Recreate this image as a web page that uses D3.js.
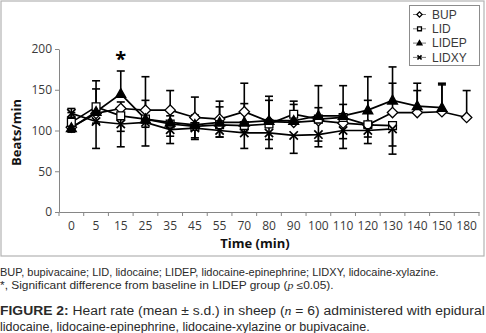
<!DOCTYPE html>
<html>
<head>
<meta charset="utf-8">
<script src="https://cdn.jsdelivr.net/npm/d3@7"></script>
<style>
  html, body { margin: 0; padding: 0; background: #fff; }
  svg { display: block; }
</style>
</head>
<body>
<div id="chart"></div>
<script>
const categories = ["0", "5", "15", "25", "35", "45", "55", "70", "80", "90", "100", "110", "120", "130", "140", "150", "180"]

// mean heart rate per group
const bup = [104, 121, 127, 125, 125, 116, 114, 123, 111, 110, 112, 109, 107, 122, 122, 123, 116]
const lid = [110, 129, 118, 114, 108, 105, 107, 106, 108, 120, 114, 116, 107, 106, null, null, null]
const lidep = [103, 123, 145, 114, 110, 107, 110, 110, 112, 112, 118, 118, 125, 137, 130, 128, null]
const lidxy = [121, 111, 108, 110, 101, 103, 100, 97, 97, 94, 95, 100, 100, 102, null, null, null]

// s.d. (BUP and LIDEP drawn upward, LID and LIDXY drawn downward)
const bupSd = [18, 40, 8, 41, 24, 25, 22, 35, 31, 22, 16, 23, 30, 36, 27, 33, 33]
const lidSd = [12, 20, 19, 10, 24, 16, 15, 8, 30, 8, 34, 38, 23, 25, null, null, null]
const lidepSd = [24, 28, 28, 23, 8, 12, 19, 23, 25, 24, 37, 37, 41, 41, 28, 30, null]
const lidxySd = [5, 33, 28, 29, 8, 12, 8, 19, 8, 22, 8, 10, 8, 31, null, null, null]

const yTicks = [0, 50, 100, 150, 200]

const series = [
  {label: "BUP", values: bup, sd: bupSd, dir: -1, marker: "diamond"},
  {label: "LID", values: lid, sd: lidSd, dir: 1, marker: "square"},
  {label: "LIDEP", values: lidep, sd: lidepSd, dir: -1, marker: "triangle"},
  {label: "LIDXY", values: lidxy, sd: lidxySd, dir: 1, marker: "cross"},
]

const width = 486
const height = 333
const ink = "#000"
const axisGrey = "#868686"
const textGrey = "#3a3a3a"
const font = "'Open Sans', 'DejaVu Sans', sans-serif"
const captionFont = "'Liberation Sans', Arial, sans-serif"

const svg = d3.select("#chart").append("svg")
  .attr("width", width)
  .attr("height", height)
  .attr("viewBox", `0 0 ${width} ${height}`)

svg.append("rect")
  .attr("x", 1).attr("y", 1)
  .attr("width", 483).attr("height", 255)
  .attr("fill", "#fff")
  .attr("stroke", "#b3b3b3")
  .attr("stroke-width", 1.2)

const x = d3.scaleBand().domain(categories).range([59, 479]).padding(0)
const cx = c => x(c) + x.bandwidth() / 2
const y = d3.scaleLinear().domain([0, 200]).range([212, 49])

// axes
const yAxis = svg.append("g")
  .attr("transform", "translate(59,0)")
  .call(d3.axisLeft(y).tickValues(yTicks).tickSize(4).tickSizeOuter(0).tickPadding(3))
yAxis.selectAll("line,path").attr("stroke", axisGrey)
yAxis.selectAll("text").attr("fill", textGrey).attr("font-size", 12).attr("font-family", font)

const xAxis = svg.append("g")
  .attr("transform", `translate(0,${y(0)})`)
  .call(d3.axisBottom(x).tickSize(0).tickPadding(9))
xAxis.selectAll("path").attr("stroke", axisGrey)
xAxis.selectAll("text").attr("fill", textGrey).attr("font-size", 12).attr("font-family", font)
// ticks between categories
xAxis.selectAll(".between")
  .data(categories.concat(["end"]))
  .join("line")
  .attr("x1", (c, i) => i < categories.length ? x(c) : x.range()[1])
  .attr("x2", (c, i) => i < categories.length ? x(c) : x.range()[1])
  .attr("y1", 0).attr("y2", 4)
  .attr("stroke", axisGrey)

svg.append("text")
  .attr("transform", `translate(21,${(y(0) + y(200)) / 2 + 2}) rotate(-90)`)
  .attr("text-anchor", "middle")
  .attr("font-family", font)
  .attr("font-weight", "bold")
  .attr("font-size", 13)
  .attr("fill", "#111")
  .text("Beats/min")

svg.append("text")
  .attr("x", 255).attr("y", 248)
  .attr("text-anchor", "middle")
  .attr("font-family", font)
  .attr("font-weight", "bold")
  .attr("font-size", 13)
  .attr("fill", "#111")
  .text("Time (min)")

// lines
const line = d3.line()
  .defined(d => d.v != null)
  .x(d => cx(d.c))
  .y(d => y(d.v))

const pointsOf = s => categories.map((c, i) => ({c, v: s.values[i], sd: s.sd[i]}))

series.forEach(s => {
  svg.append("path")
    .datum(pointsOf(s))
    .attr("fill", "none")
    .attr("stroke", ink)
    .attr("stroke-width", 1.7)
    .attr("d", line)
})

// error bars
series.forEach(s => {
  const g = svg.append("g").attr("stroke", ink).attr("stroke-width", 1.6)
  pointsOf(s).filter(d => d.v != null && d.sd != null).forEach(d => {
    const px = cx(d.c)
    const end = s.dir < 0 ? d.v + d.sd : d.v - d.sd
    g.append("line").attr("x1", px).attr("x2", px).attr("y1", y(d.v)).attr("y2", y(end))
    g.append("line").attr("x1", px - 4).attr("x2", px + 4).attr("y1", y(end)).attr("y2", y(end))
  })
})

function markerPath(type, r) {
  const p = d3.path()
  if (type === "diamond") {
    p.moveTo(0, -r); p.lineTo(r, 0); p.lineTo(0, r); p.lineTo(-r, 0); p.closePath()
  } else if (type === "square") {
    const h = r * 0.75
    p.rect(-h, -h, 2 * h, 2 * h)
  } else if (type === "triangle") {
    p.moveTo(0, -r); p.lineTo(r * 0.95, r * 0.7); p.lineTo(-r * 0.95, r * 0.7); p.closePath()
  } else {
    const h = r * 0.8
    p.moveTo(-h, -h); p.lineTo(h, h); p.moveTo(h, -h); p.lineTo(-h, h)
  }
  return p.toString()
}

function drawMarker(g, type, px, py, r) {
  g.append("path")
    .attr("transform", `translate(${px},${py})`)
    .attr("d", markerPath(type, r))
    .attr("fill", type === "triangle" ? ink : type === "cross" ? "none" : "#fff")
    .attr("stroke", ink)
    .attr("stroke-width", type === "cross" ? 1.7 : 1.3)
}

series.forEach(s => {
  const g = svg.append("g")
  pointsOf(s).filter(d => d.v != null).forEach(d => drawMarker(g, s.marker, cx(d.c), y(d.v), 5.2))
})

// significance mark
svg.append("text")
  .attr("x", cx("15")).attr("y", y(lidep[2] + lidepSd[2]) - 5)
  .attr("text-anchor", "middle")
  .attr("font-family", font)
  .attr("font-weight", "bold")
  .attr("font-size", 20)
  .attr("fill", ink)
  .text("*")

// legend
const legend = svg.append("g")
legend.append("rect")
  .attr("x", 409.5).attr("y", 5.5)
  .attr("width", 70).attr("height", 60)
  .attr("fill", "#fff")
  .attr("stroke", "#8c8c8c")

series.forEach((s, i) => {
  const ly = 14.5 + i * 14.3
  legend.append("line")
    .attr("x1", 413).attr("x2", 426)
    .attr("y1", ly).attr("y2", ly)
    .attr("stroke", "#777").attr("stroke-width", 1)
  drawMarker(legend, s.marker, 419.5, ly, 2.6)
  legend.append("text")
    .attr("x", 432).attr("y", ly + 4.3)
    .attr("font-family", captionFont)
    .attr("font-size", 12)
    .attr("fill", textGrey)
    .text(s.label)
})

// caption: each line is squeezed horizontally to the width it has in the figure
const notes = svg.append("g").attr("font-family", captionFont).attr("fill", "#2a2a2a")

function captionLine(baseline, size, target, parts) {
  const t = notes.append("text").attr("font-size", size)
  parts.forEach(part => {
    const span = t.append("tspan").text(part.text)
    if (part.bold) span.attr("font-weight", "bold")
    if (part.italic) span.attr("font-style", "italic").attr("font-family", "'Liberation Serif', serif")
  })
  const natural = t.node().getComputedTextLength()
  t.attr("transform", `translate(0,${baseline}) scale(${target / natural},1)`)
}

captionLine(276, 10.5, 439, [
  {text: "BUP, bupivacaine; LID, lidocaine; LIDEP, lidocaine-epinephrine; LIDXY, lidocaine-xylazine."},
])
captionLine(288.5, 10.5, 334, [
  {text: "*, Significant difference from baseline in LIDEP group ("},
  {text: "p", italic: true},
  {text: " \u22640.05)."},
])
captionLine(314.5, 13.5, 485, [
  {text: "FIGURE 2:", bold: true},
  {text: " Heart rate (mean \u00b1 s.d.) in sheep ("},
  {text: "n", italic: true},
  {text: " = 6) administered with epidural"},
])
captionLine(330.5, 13.5, 370, [
  {text: "lidocaine, lidocaine-epinephrine, lidocaine-xylazine or bupivacaine."},
])
</script>
</body>
</html>
